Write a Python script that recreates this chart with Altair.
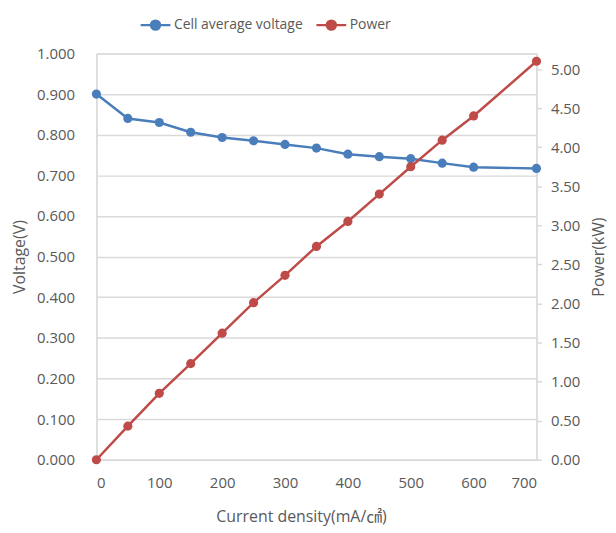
import altair as alt
import pandas as pd

current = [0, 50, 100, 150, 200, 250, 300, 350, 400, 450, 500, 550, 600, 700]
voltage = [0.900, 0.840, 0.830, 0.806, 0.793, 0.785, 0.776, 0.767, 0.752, 0.746, 0.741, 0.730, 0.720, 0.717]
power = [0.00, 0.43, 0.85, 1.23, 1.62, 2.01, 2.36, 2.73, 3.05, 3.40, 3.75, 4.09, 4.40, 5.10]
series_names = ["Cell average voltage", "Power"]
series_colors = ["#4a7ebb", "#be4b48"]
x_ticks = [0, 100, 200, 300, 400, 500, 600, 700]
v_ticks = [round(i * 0.1, 1) for i in range(11)]
p_ticks = [round(i * 0.5, 1) for i in range(11)]

FONT = "Open Sans, Noto Sans CJK KR, sans-serif"
GRAY = "#595959"
LINE = "#d9d9d9"

dv = pd.DataFrame({"current": current, "value": voltage, "series": series_names[0]})
dp = pd.DataFrame({"current": current, "value": power, "series": series_names[1]})

sym = "M-1,0L1,0M-0.3,0A0.3,0.3 0 1,1 0.3,0A0.3,0.3 0 1,1 -0.3,0Z"

color = alt.Color(
    "series:N",
    scale=alt.Scale(domain=series_names, range=series_colors),
    legend=alt.Legend(
        title=None, orient="none", direction="horizontal",
        legendX=43, legendY=-45, symbolType=sym, symbolSize=900,
        symbolStrokeWidth=2.5, labelFontSize=14, labelColor=GRAY, labelFont=FONT,
        labelOffset=2, columnPadding=8, padding=0,
    ),
)

x = alt.X(
    "current:Q",
    scale=alt.Scale(domain=[0, 700], nice=False),
    axis=alt.Axis(
        title="Current density(mA/㎠)", values=x_ticks, grid=False, ticks=False,
        domainColor=LINE, domainWidth=1.5, labelPadding=16, titlePadding=18,
        labelFontSize=15, titleFontSize=16, labelColor=GRAY, titleColor=GRAY,
        labelFont=FONT, titleFont=FONT, titleFontWeight="normal", titleX=206,
    ),
)

pt = alt.OverlayMarkDef(filled=True, size=85, opacity=1)

left = alt.Chart(dv).mark_line(strokeWidth=2.5, point=pt).encode(
    x=x,
    y=alt.Y(
        "value:Q",
        scale=alt.Scale(domain=[0, 1], nice=False),
        axis=alt.Axis(
            title="Voltage(V)", values=v_ticks, format=".3f", ticks=False,
            grid=True, gridColor=LINE, gridWidth=1.5, domainColor=LINE, domainWidth=1.5,
            labelPadding=22, titlePadding=9, labelFontSize=15, titleFontSize=16,
            labelColor=GRAY, titleColor=GRAY, labelFont=FONT, titleFont=FONT,
            titleFontWeight="normal",
        ),
    ),
    color=color,
)

right = alt.Chart(dp).mark_line(strokeWidth=2.5, point=pt).encode(
    x=x,
    y=alt.Y(
        "value:Q",
        scale=alt.Scale(domain=[0, 5.2], nice=False),
        axis=alt.Axis(
            title="Power(kW)", orient="right", values=p_ticks, format=".2f",
            grid=False, ticks=True, tickSize=5, tickColor=LINE, tickWidth=1.5,
            domainColor=LINE, domainWidth=1.5, labelPadding=9, titlePadding=11,
            labelFontSize=15, titleFontSize=16, titleAngle=270, titleBaseline="top",
            labelColor=GRAY, titleColor=GRAY, labelFont=FONT, titleFont=FONT,
            titleFontWeight="normal",
        ),
    ),
    color=color,
)

chart = alt.layer(left, right).resolve_scale(y="independent").properties(
    width=443, height=409,
    autosize=alt.AutoSizeParams(type="none"),
    padding={"left": 89, "top": 44, "right": 72, "bottom": 70},
).configure_view(stroke=None).configure(font=FONT)

chart.save("out.html", embed_options={"renderer": "svg", "actions": False})
